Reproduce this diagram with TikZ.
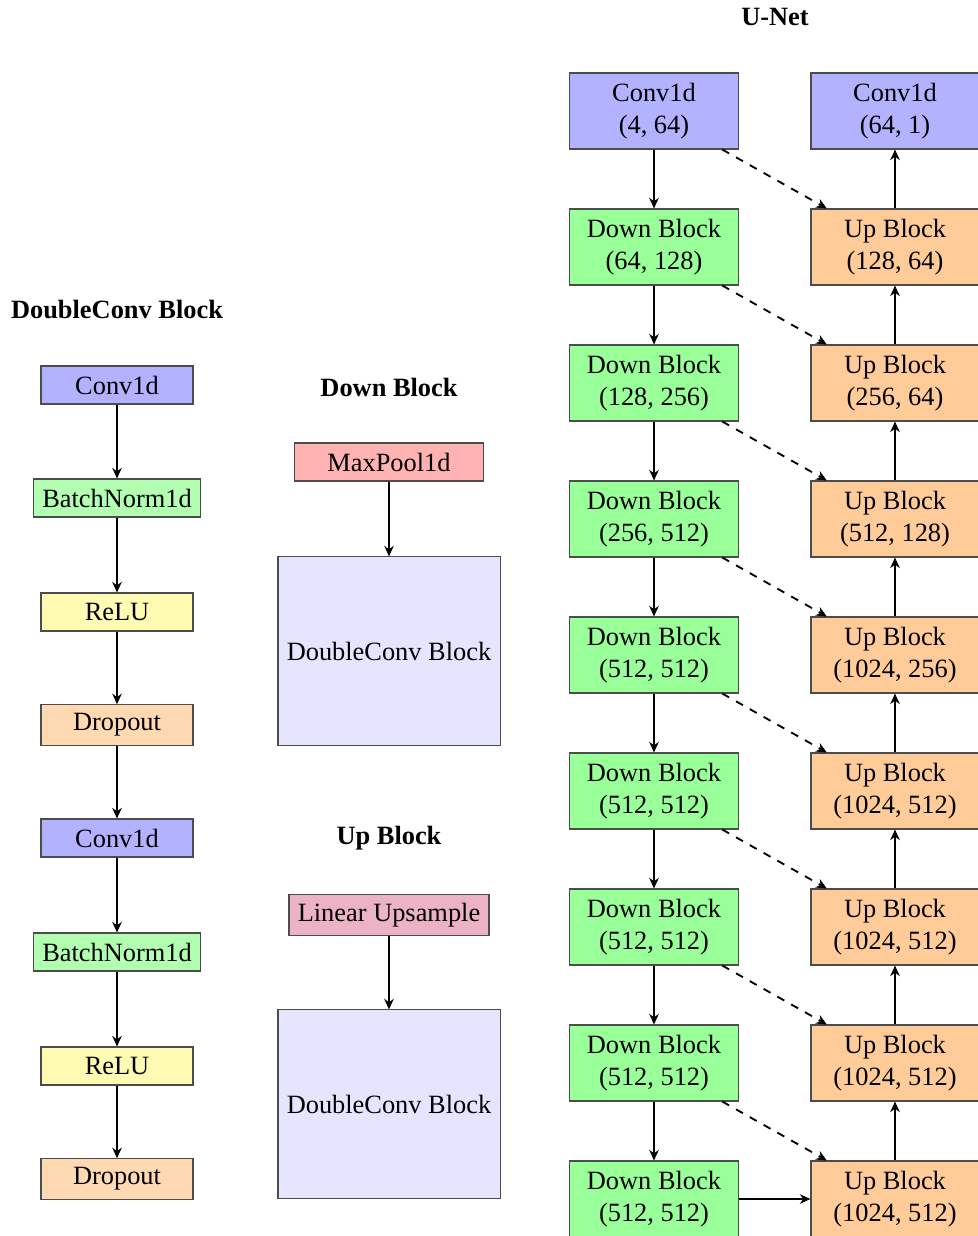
\documentclass[tikz,border=0pt]{standalone}
\usepackage{fontspec}
\setmainfont{Liberation Serif}
\usetikzlibrary{arrows.meta}
\begin{document}
\begin{tikzpicture}[x=0.379pt,y=-0.379pt,
  every node/.style={font=\fontsize{10}{12}\selectfont},
  box/.style={draw=black!70, line width=0.4pt, inner sep=3.33pt, align=center},
  lbox/.style={box, minimum width=57.6pt, minimum height=14.4pt},
  mbox/.style={box, minimum width=71.6pt, minimum height=14.4pt},
  bigbox/.style={box, fill=blue!10, minimum width=84.1pt, minimum height=71.3pt},
  ubox/.style={box, minimum width=63.7pt, minimum height=28.8pt},
  ttl/.style={font=\fontsize{10}{12}\selectfont\bfseries},
  arr/.style={-{Stealth[length=4pt,width=3.6pt]}, line width=0.7pt},
  darr/.style={arr, dashed}
]
\useasboundingbox (0,0) rectangle (977,1236);

% ---------- DoubleConv Block ----------
\node[ttl] (tdc) at (117,310) {DoubleConv Block};
\node[lbox, fill=blue!30]   (d1) at (117,385) {Conv1d};
\node[lbox, fill=green!30]  (d2) at (117,498) {BatchNorm1d};
\node[lbox, fill=yellow!30] (d3) at (117,612) {ReLU};
\node[lbox, fill=orange!30] (d4) at (117,725) {Dropout};
\node[lbox, fill=blue!30]   (d5) at (117,838) {Conv1d};
\node[lbox, fill=green!30]  (d6) at (117,952) {BatchNorm1d};
\node[lbox, fill=yellow!30] (d7) at (117,1066) {ReLU};
\node[lbox, fill=orange!30] (d8) at (117,1179) {Dropout};
\foreach \a/\b in {d1/d2,d2/d3,d3/d4,d4/d5,d5/d6,d6/d7,d7/d8}
  \draw[arr] (\a) -- (\b);

% ---------- Down Block ----------
\node[ttl] (tdb) at (389,387) {Down Block};
\node[mbox, fill=red!30] (mp) at (389,462) {MaxPool1d};
\node[bigbox] (dcb1) at (389,651) {DoubleConv Block};
\draw[arr] (mp) -- (dcb1);

% ---------- Up Block ----------
\node[ttl] (tub) at (389,838) {Up Block};
\node[mbox, fill=purple!30] (lu) at (389,915) {Linear Upsample};
\node[bigbox] (dcb2) at (389,1104) {DoubleConv Block};
\draw[arr] (lu) -- (dcb2);

% ---------- U-Net ----------
\node[ttl] (tun) at (775,17) {U-Net};
\node[ubox, fill=blue!30]  (a1) at (654,111)  {Conv1d\\(4, 64)};
\node[ubox, fill=green!40] (a2) at (654,247)  {Down Block\\(64, 128)};
\node[ubox, fill=green!40] (a3) at (654,383)  {Down Block\\(128, 256)};
\node[ubox, fill=green!40] (a4) at (654,519)  {Down Block\\(256, 512)};
\node[ubox, fill=green!40] (a5) at (654,655)  {Down Block\\(512, 512)};
\node[ubox, fill=green!40] (a6) at (654,791)  {Down Block\\(512, 512)};
\node[ubox, fill=green!40] (a7) at (654,927)  {Down Block\\(512, 512)};
\node[ubox, fill=green!40] (a8) at (654,1063) {Down Block\\(512, 512)};
\node[ubox, fill=green!40] (a9) at (654,1199) {Down Block\\(512, 512)};

\node[ubox, fill=blue!30]   (b1) at (895,111)  {Conv1d\\(64, 1)};
\node[ubox, fill=orange!40] (b2) at (895,247)  {Up Block\\(128, 64)};
\node[ubox, fill=orange!40] (b3) at (895,383)  {Up Block\\(256, 64)};
\node[ubox, fill=orange!40] (b4) at (895,519)  {Up Block\\(512, 128)};
\node[ubox, fill=orange!40] (b5) at (895,655)  {Up Block\\(1024, 256)};
\node[ubox, fill=orange!40] (b6) at (895,791)  {Up Block\\(1024, 512)};
\node[ubox, fill=orange!40] (b7) at (895,927)  {Up Block\\(1024, 512)};
\node[ubox, fill=orange!40] (b8) at (895,1063) {Up Block\\(1024, 512)};
\node[ubox, fill=orange!40] (b9) at (895,1199) {Up Block\\(1024, 512)};

\foreach \i/\j in {1/2,2/3,3/4,4/5,5/6,6/7,7/8,8/9} {
  \draw[arr] (a\i) -- (a\j);
  \draw[arr] (b\j) -- (b\i);
  \draw[darr] (a\i) -- (b\j);
}
\draw[arr] (a9) -- (b9);
\end{tikzpicture}
\end{document}
